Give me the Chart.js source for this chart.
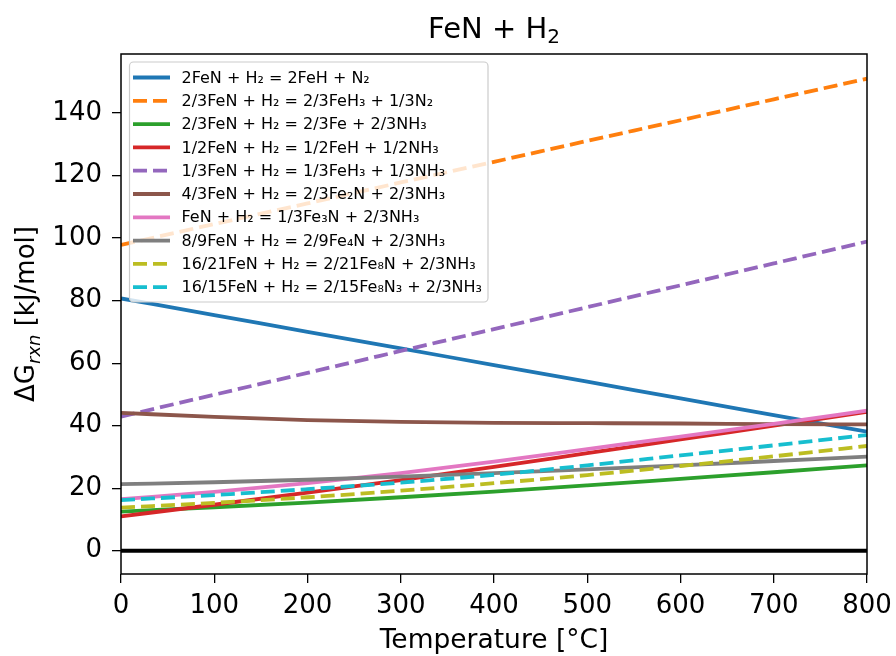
<!DOCTYPE html>
<html>
<head>
<meta charset="utf-8">
<script src="https://cdn.jsdelivr.net/npm/chart.js@4.4.1/dist/chart.umd.min.js"></script>
<style>
  html, body { margin: 0; padding: 0; background: #fff; }
  #wrap { width: 896px; height: 656px; }
</style>
</head>
<body>
<div id="wrap"><canvas id="c" width="896" height="656"></canvas></div>
<script>
const temps = [0, 100, 200, 300, 400, 500, 600, 700, 800];

// ΔG_rxn in kJ/mol for each reaction
const feh_n2     = [80.7, 75.4, 70.0, 64.7, 59.4, 54.1, 48.7, 43.4, 38.1];
const feh3_n2    = [97.8, 104.5, 111.1, 117.8, 124.4, 131.1, 137.7, 144.4, 151.0];
const fe_nh3     = [12.5, 13.9, 15.4, 17.1, 18.9, 20.9, 23.0, 25.1, 27.3];
const feh_nh3    = [11.0, 14.7, 18.6, 22.6, 26.8, 31.2, 35.6, 40.0, 44.4];
const feh3_nh3   = [42.9, 49.9, 56.9, 63.9, 70.9, 77.9, 84.9, 91.9, 98.9];
const fe2n_nh3   = [44.1, 42.8, 41.8, 41.2, 40.9, 40.8, 40.7, 40.5, 40.4];
const fe3n_nh3   = [16.5, 18.8, 21.6, 24.8, 28.5, 32.5, 36.5, 40.6, 44.8];
const fe4n_nh3   = [21.3, 21.9, 22.7, 23.7, 24.8, 26.0, 27.3, 28.7, 30.1];
const fe8n_nh3   = [13.8, 15.3, 17.1, 19.2, 21.6, 24.2, 27.1, 30.2, 33.5];
const fe8n3_nh3  = [16.2, 17.8, 19.7, 21.8, 24.3, 27.3, 30.5, 33.7, 37.0];

const seriesLabels = [
  '2FeN + H₂ = 2FeH + N₂',
  '2/3FeN + H₂ = 2/3FeH₃ + 1/3N₂',
  '2/3FeN + H₂ = 2/3Fe + 2/3NH₃',
  '1/2FeN + H₂ = 1/2FeH + 1/2NH₃',
  '1/3FeN + H₂ = 1/3FeH₃ + 1/3NH₃',
  '4/3FeN + H₂ = 2/3Fe₂N + 2/3NH₃',
  'FeN + H₂ = 1/3Fe₃N + 2/3NH₃',
  '8/9FeN + H₂ = 2/9Fe₄N + 2/3NH₃',
  '16/21FeN + H₂ = 2/21Fe₈N + 2/3NH₃',
  '16/15FeN + H₂ = 2/15Fe₈N₃ + 2/3NH₃'
];
const seriesValues = [feh_n2, feh3_n2, fe_nh3, feh_nh3, feh3_nh3, fe2n_nh3, fe3n_nh3, fe4n_nh3, fe8n_nh3, fe8n3_nh3];
const seriesColors = ['#1f77b4', '#ff7f0e', '#2ca02c', '#d62728', '#9467bd', '#8c564b', '#e377c2', '#7f7f7f', '#bcbd22', '#17becf'];
const seriesDashed = [false, true, false, false, true, false, false, false, true, true];

const xTicks = [0, 100, 200, 300, 400, 500, 600, 700, 800];
const yTicks = [0, 20, 40, 60, 80, 100, 120, 140];

const FONT = '"DejaVu Sans", "Liberation Sans", sans-serif';
const DASH = [14, 6];
const LW = 3.8;

Chart.defaults.font.family = FONT;
Chart.defaults.color = '#000';

const datasets = seriesValues.map((vals, i) => ({
  label: seriesLabels[i],
  data: temps.map((t, k) => ({ x: t, y: vals[k] })),
  borderColor: seriesColors[i],
  backgroundColor: seriesColors[i],
  borderWidth: LW,
  borderDash: seriesDashed[i] ? DASH : [],
  pointRadius: 0,
  fill: false,
  cubicInterpolationMode: 'monotone',
  order: seriesValues.length - i + 1   // later series on top, like matplotlib
}));

// the y = 0 reference line
datasets.push({
  label: 'zero',
  data: [{ x: xTicks[0], y: 0 }, { x: xTicks[xTicks.length - 1], y: 0 }],
  borderColor: '#000',
  borderWidth: 4,
  pointRadius: 0,
  fill: false,
  order: 0
});

// draws a run of [text, font, dy] pieces starting at x on baseline y
function drawRuns(ctx, runs, x, y) {
  runs.forEach(r => {
    ctx.font = r[1];
    ctx.fillText(r[0], x, y + r[2]);
    x += ctx.measureText(r[0]).width;
  });
}
function runsWidth(ctx, runs) {
  let w = 0;
  runs.forEach(r => { ctx.font = r[1]; w += ctx.measureText(r[0]).width; });
  return w;
}

// title, axis labels, frame and legend drawn on top of the chart
const decor = {
  id: 'decor',
  afterDraw(chart) {
    const { ctx, chartArea: a } = chart;
    const cx = (a.left + a.right) / 2;
    const cy = (a.top + a.bottom) / 2;
    ctx.save();

    ctx.strokeStyle = '#000';
    ctx.lineWidth = 1.5;
    ctx.strokeRect(a.left, a.top, a.right - a.left, a.bottom - a.top);

    ctx.fillStyle = '#000';
    ctx.textBaseline = 'alphabetic';
    ctx.textAlign = 'left';

    // title FeN + H2 with a mathtext-like subscript
    const title = [['FeN + H', '29px ' + FONT, 0], ['2', '20px ' + FONT, 5]];
    drawRuns(ctx, title, cx - runsWidth(ctx, title) / 2, 37.5);

    ctx.textAlign = 'center';
    ctx.font = '26.5px ' + FONT;
    ctx.fillText('Temperature [°C]', cx, 648);

    // y label: ΔG with italic subscript rxn
    ctx.textAlign = 'left';
    const ylab = [['ΔG', '26px ' + FONT, 0], ['rxn', 'italic 18px ' + FONT, 6], [' [kJ/mol]', '26px ' + FONT, 0]];
    const total = runsWidth(ctx, ylab);
    ctx.translate(33.5, cy);
    ctx.rotate(-Math.PI / 2);
    drawRuns(ctx, ylab, -total / 2, 0);
    ctx.setTransform(1, 0, 0, 1, 0, 0);

    // legend box
    const bx = a.left + 8.5, by = a.top + 8, bw = 358.5, bh = 240;
    ctx.beginPath();
    ctx.roundRect(bx, by, bw, bh, 4);
    ctx.fillStyle = 'rgba(255,255,255,0.8)';
    ctx.fill();
    ctx.strokeStyle = '#cccccc';
    ctx.lineWidth = 1.2;
    ctx.stroke();

    ctx.font = '16px ' + FONT;
    ctx.textBaseline = 'middle';
    ctx.textAlign = 'left';
    chart.data.datasets.forEach((ds, i) => {
      if (ds.label === 'zero') return;
      const ry = by + 15.5 + i * 23.3;
      ctx.beginPath();
      ctx.setLineDash(ds.borderDash || []);
      ctx.strokeStyle = ds.borderColor;
      ctx.lineWidth = ds.borderWidth;
      ctx.moveTo(bx + 3.5, ry);
      ctx.lineTo(bx + 40.5, ry);
      ctx.stroke();
      ctx.setLineDash([]);
      ctx.fillStyle = '#000';
      ctx.fillText(ds.label, bx + 52, ry + 1);
    });
    ctx.restore();
  }
};

new Chart(document.getElementById('c'), {
  type: 'line',
  data: { datasets },
  options: {
    responsive: false,
    animation: false,
    devicePixelRatio: 1,
    layout: { padding: { top: 54, right: 29, left: 0, bottom: 0 } },
    plugins: {
      legend: { display: false },
      title: { display: false },
      tooltip: { enabled: false }
    },
    scales: {
      x: {
        type: 'linear',
        min: 0,
        max: 800,
        afterBuildTicks: s => { s.ticks = xTicks.map(v => ({ value: v })); },
        afterFit: s => { s.height = 82; s.paddingLeft = 0; s.paddingRight = 0; },
        grid: { drawOnChartArea: false, drawTicks: true, tickLength: 9, color: '#000', lineWidth: 1.3 },
        border: { display: false },
        ticks: { color: '#000', font: { size: 26 }, padding: 8, maxRotation: 0, autoSkip: false }
      },
      y: {
        type: 'linear',
        min: -7.45,
        max: 158.9,
        afterBuildTicks: s => { s.ticks = yTicks.map(v => ({ value: v })); },
        afterFit: s => { s.width = 121; s.paddingTop = 0; s.paddingBottom = 0; },
        grid: { drawOnChartArea: false, drawTicks: true, tickLength: 9, color: '#000', lineWidth: 1.3 },
        border: { display: false },
        ticks: { color: '#000', font: { size: 26 }, padding: 10, autoSkip: false }
      }
    }
  },
  plugins: [decor]
});
</script>
</body>
</html>
